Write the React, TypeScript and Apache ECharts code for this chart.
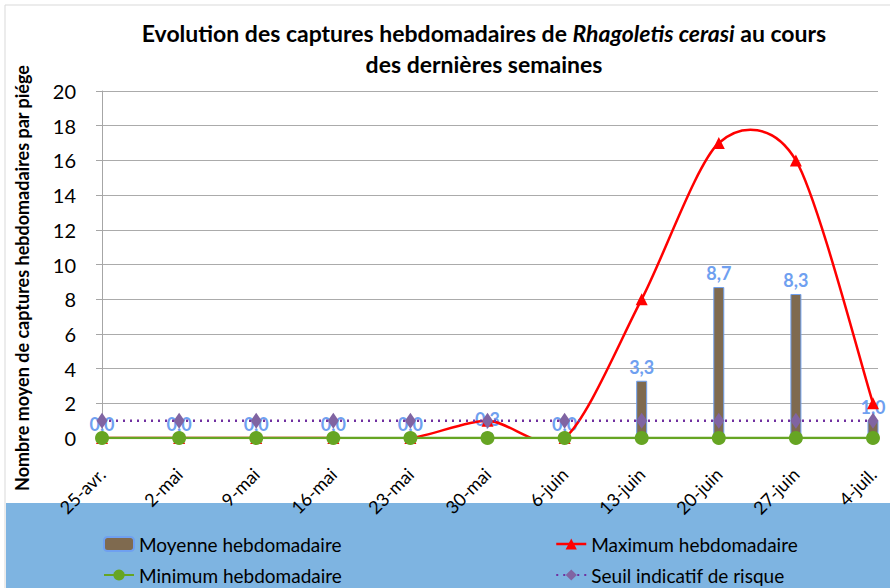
import React, { useEffect, useRef } from "react";
import * as echarts from "echarts";

const categories = ["25-avr.", "2-mai", "9-mai", "16-mai", "23-mai", "30-mai", "6-juin", "13-juin", "20-juin", "27-juin", "4-juil."];
const moyenne = [0, 0, 0, 0, 0, 0.3, 0, 3.3, 8.7, 8.3, 1.0];
const maximum = [0, 0, 0, 0, 0, 1, 0, 8, 17, 16, 2];
const minimum = [0, 0, 0, 0, 0, 0, 0, 0, 0, 0, 0];
const seuil = [1, 1, 1, 1, 1, 1, 1, 1, 1, 1, 1];

const FONT = "Lato";

const pairs = (arr: number[]) => arr.map((v, i) => [i, v]);

// Excel-like smoothed curve (cardinal spline) through the data points, positioned by the chart's scales
function smoothCurve(api: any) {
  const pts = maximum.map((v, i) => api.coord([i, v]));
  const n = pts.length;
  const k = 7;
  let d = `M${pts[0][0]},${pts[0][1]}`;
  for (let i = 0; i < n - 1; i++) {
    const p0 = pts[Math.max(0, i - 1)];
    const p1 = pts[i];
    const p2 = pts[i + 1];
    const p3 = pts[Math.min(n - 1, i + 2)];
    const c1x = p1[0] + (p2[0] - p0[0]) / k;
    const c1y = p1[1] + (p2[1] - p0[1]) / k;
    const c2x = p2[0] - (p3[0] - p1[0]) / k;
    const c2y = p2[1] - (p3[1] - p1[1]) / k;
    d += ` C${c1x},${c1y} ${c2x},${c2y} ${p2[0]},${p2[1]}`;
  }
  return d;
}

export default function App() {
  const ref = useRef<HTMLDivElement>(null);
  useEffect(() => {
    if (!ref.current) return;
    const chart = echarts.init(ref.current, null, { renderer: "svg" });
    const legendText = { fontFamily: FONT, fontSize: 19, color: "#000", lineHeight: 20 };
    chart.setOption({
      animation: false,
      backgroundColor: "#ffffff",
      textStyle: { fontFamily: FONT },
      title: {
        left: 479,
        top: 12,
        textAlign: "center",
        text: "{b|Evolution des captures hebdomadaires de }{i|Rhagoletis cerasi}{b| au cours}\n{b|des dernières semaines}",
        textStyle: {
          rich: {
            b: { fontFamily: FONT, fontWeight: "bold", fontSize: 23, color: "#000", lineHeight: 31 },
            i: { fontFamily: FONT, fontWeight: "bold", fontStyle: "italic", fontSize: 23, color: "#000", lineHeight: 31 },
          },
        },
      },
      graphic: [
        {
          type: "rect",
          z: -10,
          shape: { x: 5, y: 5, width: 900, height: 600 },
          style: { fill: "none", stroke: "#D9D9D9", lineWidth: 1 },
        },
        {
          type: "rect",
          z: -9,
          shape: { x: 6, y: 503, width: 884, height: 85 },
          style: { fill: "#7EB4E1" },
        },
        {
          type: "text",
          x: 22,
          y: 278,
          rotation: Math.PI / 2,
          style: {
            text: "Nombre moyen de captures hebdomadaires par piége",
            fontFamily: FONT,
            fontWeight: "bold",
            fontSize: 18,
            fill: "#000",
            align: "center",
            verticalAlign: "middle",
          },
        },
      ],
      legend: [
        {
          orient: "vertical",
          left: 103,
          top: 534,
          padding: 0,
          itemWidth: 30,
          itemHeight: 14,
          itemGap: 11,
          data: ["Moyenne hebdomadaire", "Minimum hebdomadaire"],
          textStyle: legendText,
        },
        {
          orient: "vertical",
          left: 555,
          top: 534,
          padding: 0,
          itemWidth: 30,
          itemHeight: 14,
          itemGap: 11,
          data: [
            { name: "Maximum hebdomadaire", lineStyle: { opacity: 1, width: 2.5, color: "#FF0000" } },
            "Seuil indicatif de risque",
          ],
          textStyle: legendText,
        },
      ],
      grid: { left: 96, right: 12, top: 91, bottom: 150, containLabel: false },
      xAxis: {
        type: "value",
        min: -0.078,
        max: 10.065,
        minInterval: 1,
        maxInterval: 1,
        splitLine: { show: false },
        axisLine: { show: true, lineStyle: { color: "#A6A6A6" } },
        axisTick: { show: false },
        axisLabel: {
          rotate: 45,
          margin: 33,
          fontFamily: FONT,
          fontSize: 18,
          color: "#000",
          showMinLabel: true,
          showMaxLabel: true,
          formatter: (v: number) => {
            const r = Math.round(v);
            if (Math.abs(v - r) > 1e-6 || r < 0 || r >= categories.length) return "";
            return categories[r];
          },
        },
      },
      yAxis: {
        type: "value",
        min: 0,
        max: 20,
        interval: 2,
        axisLine: { show: true, lineStyle: { color: "#A6A6A6" } },
        axisTick: { show: true, length: 6, lineStyle: { color: "#A6A6A6" } },
        splitLine: { show: true, lineStyle: { color: "#ABABAB", width: 1 } },
        axisLabel: { margin: 20, fontFamily: FONT, fontSize: 20, color: "#000" },
      },
      series: [
        {
          name: "Moyenne hebdomadaire",
          type: "bar",
          data: pairs(moyenne),
          barWidth: 11,
          itemStyle: { color: "#7F6A4F", borderColor: "#6FA0F0", borderWidth: 1 },
          label: {
            show: true,
            position: "top",
            distance: 5,
            fontFamily: FONT,
            fontWeight: "bold",
            fontSize: 18,
            color: "#6FA0F0",
            formatter: (p: any) => p.value[1].toFixed(1).replace(".", ","),
          },
          z: 2,
        },
        {
          name: "maxCurve",
          type: "custom",
          clip: true,
          data: [[0, 0]],
          silent: true,
          z: 3,
          renderItem: (_params: any, api: any) => ({
            type: "path",
            shape: { pathData: smoothCurve(api) },
            style: { fill: "none", stroke: "#FF0000", lineWidth: 2.5 },
          }),
        },
        {
          name: "Maximum hebdomadaire",
          type: "line",
          data: pairs(maximum),
          symbol: "triangle",
          symbolSize: 12,
          lineStyle: { color: "#FF0000", width: 2.5, opacity: 0 },
          itemStyle: { color: "#FF0000" },
          z: 3,
        },
        {
          name: "Minimum hebdomadaire",
          type: "line",
          data: pairs(minimum),
          symbol: "circle",
          symbolSize: 14,
          lineStyle: { color: "#66A523", width: 2.5 },
          itemStyle: { color: "#66A523" },
          z: 4,
        },
        {
          name: "Seuil indicatif de risque",
          type: "line",
          data: pairs(seuil),
          symbol: "diamond",
          symbolSize: [11, 16],
          lineStyle: { color: "#7030A0", width: 2.5, type: [2, 5] },
          itemStyle: { color: "#8064A2" },
          z: 5,
        },
      ],
    });
    return () => chart.dispose();
  }, []);
  return <div ref={ref} style={{ position: "absolute", left: 0, top: 0, width: 890, height: 588 }} />;
}
